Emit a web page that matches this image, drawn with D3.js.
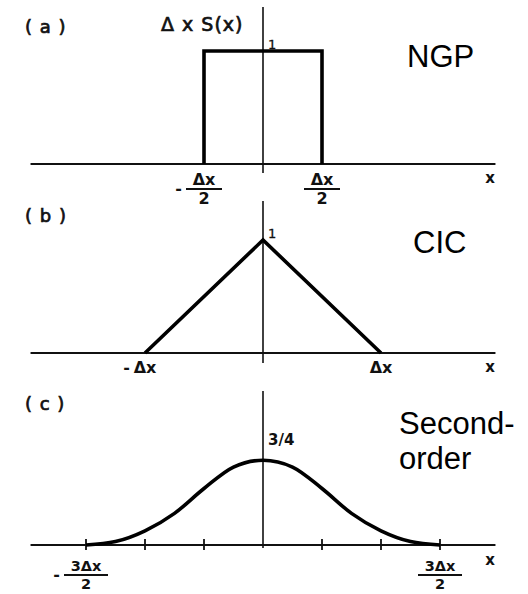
<!DOCTYPE html>
<html>
<head>
<meta charset="utf-8">
<script src="https://cdn.jsdelivr.net/npm/d3@7"></script>
<style>
  html, body { margin: 0; padding: 0; background: #fff; }
  svg { display: block; }
  .lettering { font-family: "DejaVu Sans", sans-serif; fill: #111; }
  .inked { stroke: #111; stroke-width: 0.7; }
  .name { font-family: "Liberation Sans", Arial, sans-serif; fill: #000; }
</style>
</head>
<body>
<svg id="chart" width="528" height="594"></svg>
<script>
// Particle shape functions S(x) for three assignment schemes, x in units of Δx.
const panelTags = ["( a )", "( b )", "( c )"];
const schemeNames = [["NGP"], ["CIC"], ["Second-", "order"]];
const peakLabels = ["1", "1", "3/4"];

// (a) nearest grid point: top-hat
const ngpX = [-0.5, -0.5, 0.5, 0.5];
const ngpY = [0, 1, 1, 0];
// (b) cloud in cell: triangle
const cicX = [-1, 0, 1];
const cicY = [0, 1, 0];
// (c) second-order (quadratic spline)
const tscX = [-1.5, -1.25, -1, -0.75, -0.5, -0.25, 0, 0.25, 0.5, 0.75, 1, 1.25, 1.5];
const tscY = [0, 0.03, 0.125, 0.28, 0.5, 0.69, 0.75, 0.69, 0.5, 0.28, 0.125, 0.03, 0];

// x-axis tick labels: [position, numerator, denominator, sign]
const ngpTicks = [[-0.5, "Δx", "2", "-"], [0.5, "Δx", "2", ""]];
const cicTicks = [[-1, "Δx", null, "-"], [1, "Δx", null, ""]];
const tscTicks = [[-1.5, "3Δx", "2", "-"], [1.5, "3Δx", "2", ""]];
const tscTickMarks = [-1.5, -1, -0.5, 0.5, 1, 1.5];

const svg = d3.select("#chart");

const x = d3.scaleLinear().domain([-1, 1]).range([145, 381]);
const axisExtent = [-1.97, 1.97];

const panels = [
  { tag: panelTags[0], name: schemeNames[0], peak: peakLabels[0],
    xs: ngpX, ys: ngpY, curve: d3.curveLinear, ticks: ngpTicks, marks: [],
    y: d3.scaleLinear().domain([0, 1]).range([164, 51]),
    axisTop: 7, axisBottom: 173, tagY: 33, nameX: 407, nameY: 67,
    numOffset: 21, denGap: 19, fracSize: 16 },
  { tag: panelTags[1], name: schemeNames[1], peak: peakLabels[1],
    xs: cicX, ys: cicY, curve: d3.curveLinear, ticks: cicTicks, marks: [],
    y: d3.scaleLinear().domain([0, 1]).range([353, 240]),
    axisTop: 201, axisBottom: 363, tagY: 222, nameX: 413, nameY: 253,
    numOffset: 20, denGap: 19, fracSize: 16 },
  { tag: panelTags[2], name: schemeNames[2], peak: peakLabels[2],
    xs: tscX, ys: tscY, curve: d3.curveMonotoneX, ticks: tscTicks, marks: tscTickMarks,
    y: d3.scaleLinear().domain([0, 1]).range([545, 432]),
    axisTop: 391, axisBottom: 548, tagY: 410, nameX: 399, nameY: 434,
    numOffset: 26, denGap: 18, fracSize: 14.5 }
];

panels.forEach(p => {
  const g = svg.append("g");
  const y0 = p.y(0);

  // horizontal axis
  g.append("line")
    .attr("x1", x(axisExtent[0])).attr("x2", x(axisExtent[1]))
    .attr("y1", y0).attr("y2", y0)
    .attr("stroke", "#111").attr("stroke-width", 2);

  // vertical axis
  g.append("line")
    .attr("x1", x(0)).attr("x2", x(0))
    .attr("y1", p.axisTop).attr("y2", p.axisBottom)
    .attr("stroke", "#111").attr("stroke-width", 1.6);

  // minor tick marks
  g.selectAll("line.tick").data(p.marks).join("line")
    .attr("class", "tick")
    .attr("x1", d => x(d)).attr("x2", d => x(d))
    .attr("y1", y0 - 6).attr("y2", y0 + 5)
    .attr("stroke", "#111").attr("stroke-width", 1.8);

  // shape function
  const pts = p.xs.map((v, i) => [v, p.ys[i]]);
  g.append("path")
    .datum(pts)
    .attr("fill", "none")
    .attr("stroke", "#000")
    .attr("stroke-width", 3.6)
    .attr("stroke-linejoin", "miter")
    .attr("d", d3.line().x(d => x(d[0])).y(d => p.y(d[1])).curve(p.curve));

  // panel tag
  g.append("text").attr("class", "lettering inked")
    .attr("x", 25).attr("y", p.tagY)
    .attr("font-size", 18)
    .attr("letter-spacing", 1)
    .text(p.tag);

  // peak label
  const peakVal = d3.max(p.ys);
  const small = p.peak === "1";
  g.append("text").attr("class", "lettering inked")
    .attr("x", x(0) + 5).attr("y", p.y(peakVal) - (small ? 2 : 15))
    .attr("font-size", small ? 13 : 15)
    .style("font-weight", small ? "normal" : "bold")
    .style("stroke-width", small ? 0.3 : 0)
    .text(p.peak);

  // "x" at the end of the axis
  g.append("text").attr("class", "lettering")
    .attr("x", 490).attr("y", y0 + (p.marks.length ? 20 : 19))
    .attr("font-size", 15).style("font-weight", "bold")
    .attr("text-anchor", "middle")
    .text("x");

  // x tick labels (fractions)
  p.ticks.forEach(([pos, num, den, sign]) => {
    const cx = x(pos);
    const numY = y0 + p.numOffset;
    g.append("text").attr("class", "lettering")
      .attr("x", cx).attr("y", numY)
      .attr("font-size", p.fracSize).style("font-weight", "bold")
      .attr("text-anchor", "middle")
      .text(num);
    if (den) {
      const half = num.length > 2 ? 22 : 18;
      g.append("line")
        .attr("x1", cx - half).attr("x2", cx + half)
        .attr("y1", numY + 4).attr("y2", numY + 4)
        .attr("stroke", "#111").attr("stroke-width", 2);
      g.append("text").attr("class", "lettering")
        .attr("x", cx).attr("y", numY + p.denGap)
        .attr("font-size", p.fracSize).style("font-weight", "bold")
        .attr("text-anchor", "middle")
        .text(den);
      if (sign) {
        g.append("text").attr("class", "lettering")
          .attr("x", cx - half - 4).attr("y", numY + 9)
          .attr("font-size", 16).style("font-weight", "bold")
          .attr("text-anchor", "end")
          .text(sign);
      }
    } else if (sign) {
      g.append("text").attr("class", "lettering")
        .attr("x", cx - 15).attr("y", numY)
        .attr("font-size", 16).style("font-weight", "bold")
        .attr("text-anchor", "end")
        .text(sign);
    }
  });

  // scheme name
  const nameText = g.append("text").attr("class", "name")
    .attr("x", p.nameX).attr("y", p.nameY)
    .attr("font-size", 31);
  p.name.forEach((line, i) => {
    nameText.append("tspan")
      .attr("x", p.nameX)
      .attr("dy", i === 0 ? 0 : 35)
      .text(line);
  });
});

// ordinate label of the top panel
svg.append("text").attr("class", "lettering inked")
  .attr("x", 161).attr("y", 31)
  .attr("font-size", 19)
  .attr("letter-spacing", 1)
  .text("Δ x S(x)");
</script>
</body>
</html>
